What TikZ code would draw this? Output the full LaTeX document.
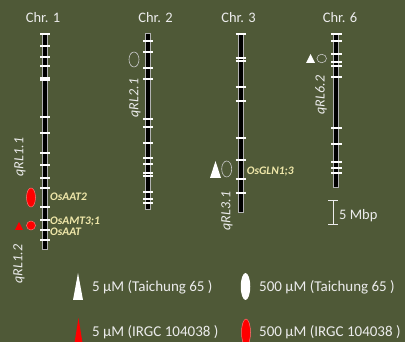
\documentclass[tikz,border=0pt]{standalone}
\usepackage{fontspec}
\setmainfont{Carlito}
\usetikzlibrary{shapes.geometric}
\definecolor{bg}{RGB}{79,89,55}
\definecolor{lbl}{RGB}{236,236,236}
\definecolor{genec}{RGB}{240,232,170}
\definecolor{ellc}{RGB}{200,200,200}
\begin{document}
\begin{tikzpicture}[x=1pt,y=-1pt,
  chrbar/.style={rectangle, draw=gray!60, line width=0.7pt, fill=black, minimum width=5pt, inner sep=0pt},
  tickmark/.style={draw=white, line width=1.1pt},
  chrlbl/.style={text=lbl, font=\fontsize{14.5}{16}\selectfont, anchor=base, inner sep=0pt},
  qtl/.style={text=lbl, font=\fontsize{14}{16}\selectfont\itshape, rotate=90, inner sep=0pt},
  gene/.style={text=genec, font=\fontsize{11.5}{13}\selectfont\bfseries\itshape, anchor=base west, inner sep=0pt},
  leg/.style={text=lbl, font=\fontsize{15}{17}\selectfont, anchor=base west, inner sep=0pt},
  openell/.style={ellipse, draw=ellc, line width=0.6pt, inner sep=0pt},
  redell/.style={ellipse, fill=red, draw=red!55!white, line width=0.5pt, inner sep=0pt},
  whiteell/.style={ellipse, fill=white, inner sep=0pt},
]
\useasboundingbox (0,0) rectangle (405,342);
\fill[bg] (0,0) rectangle (405,342);

% chromosome labels
\node[chrlbl] (l1) at (43,22.5) {Chr. 1};
\node[chrlbl] (l2) at (155.5,22.5) {Chr. 2};
\node[chrlbl] (l3) at (238.5,22.5) {Chr. 3};
\node[chrlbl] (l6) at (340,22.5) {Chr. 6};

% chromosome bars
\node[chrbar, minimum height=216pt] (c1) at (45,141) {};
\node[chrbar, minimum height=176pt] (c2) at (148.3,121) {};
\node[chrbar, minimum height=179pt] (c3) at (240.8,122.5) {};
\node[chrbar, minimum height=154pt] (c6) at (336,110) {};

% ticks
\foreach \y in {34,46,57,66,78,80,117,133,153,165,178,188,207,220,230,240}
  \draw[tickmark] (40,\y) -- (50,\y);
\foreach \y in {41,52,68,79,119,127,143,158,164,173,176,192,199,203}
  \draw[tickmark] (143.3,\y) -- (153.3,\y);
\foreach \y in {34,58,61,87,101,138,160,179,193}
  \draw[tickmark] (235.5,\y) -- (246,\y);
\foreach \y in {34,41,54,62,66,77,128,162,168,173}
  \draw[tickmark] (331,\y) -- (341.5,\y);
\draw[tickmark, line width=2.2pt] (331,144) -- (341.5,144);

% QTL labels
\node[qtl] (q11) at (20,157) {qRL1.1};
\node[qtl] (q12) at (19,264) {qRL1.2};
\node[qtl] (q21) at (135,98) {qRL2.1};
\node[qtl] (q31) at (227,211) {qRL3.1};
\node[qtl] (q62) at (321,95) {qRL6.2};

% markers chr 1
\node[redell, minimum width=9pt, minimum height=19pt] (m1) at (31,197.5) {};
\node[redell, minimum width=9pt, minimum height=9pt] (m2) at (31,225.5) {};
\fill[red] (15,230) -- (23,230) -- (19,222) -- cycle;
\node[gene] (g1) at (50,200.5) {OsAAT2};
\node[gene] (g2) at (50,225) {OsAMT3;1};
\node[gene] (g3) at (50,236) {OsAAT};

% markers chr 2
\node[openell, minimum width=10pt, minimum height=15pt] (m3) at (134,59.5) {};

% markers chr 3
\fill[white] (210,178) -- (221,178) -- (215.5,161) -- cycle;
\node[openell, minimum width=10pt, minimum height=16pt] (m4) at (226.7,169) {};
\node[gene] (g4) at (246.7,175) {OsGLN1;3};

% markers chr 6
\fill[white] (306,63) -- (315,63) -- (310.5,54) -- cycle;
\node[openell, minimum width=9.5pt, minimum height=8.5pt] (m5) at (321.7,58.5) {};

% scale bar
\draw[lbl, line width=0.8pt] (328,200.7) -- (338,200.7) (333,200.7) -- (333,224) (328,224) -- (338,224);
\node[leg, font=\fontsize{14.5}{16}\selectfont] (sb) at (339,220) {5 Mbp};

% legend
\fill[white] (73,300) -- (83,300) -- (78,273) -- cycle;
\node[leg] (t1) at (92,291.5) {5 µM (Taichung 65 )};
\node[whiteell, minimum width=9.5pt, minimum height=27pt] (e1) at (245.5,286.5) {};
\node[leg] (t2) at (259,291.5) {500 µM (Taichung 65 )};
\fill[red] (74,346) -- (83,346) -- (78.5,318) -- cycle;
\node[leg] (t3) at (92,336.5) {5 µM (IRGC 104038 )};
\node[redell, minimum width=9pt, minimum height=27pt] (e2) at (246,332.5) {};
\node[leg] (t4) at (259,336.5) {500 µM (IRGC 104038 )};
\end{tikzpicture}
\end{document}
